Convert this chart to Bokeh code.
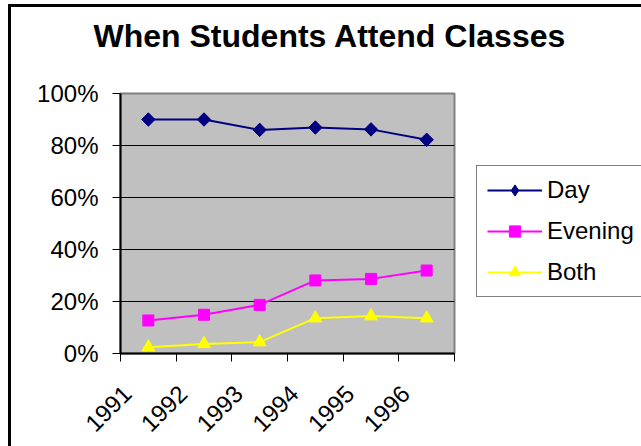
import numpy as np
from bokeh.plotting import figure
from bokeh.models import (Range1d, FixedTicker, NumeralTickFormatter, Legend,
                          LegendItem, Title)
from bokeh.embed import file_html
from bokeh.resources import INLINE

# ---- data ----
years = ["1991", "1992", "1993", "1994", "1995", "1996"]
day = [0.900, 0.900, 0.860, 0.869, 0.862, 0.822]
evening = [0.127, 0.149, 0.187, 0.281, 0.287, 0.319]
both = [0.024, 0.037, 0.044, 0.136, 0.144, 0.136]
y_ticks = [0.0, 0.2, 0.4, 0.6, 0.8, 1.0]
title_text = "When Students Attend Classes"

FONT = "Liberation Sans"

xs = [i + 0.5 for i in range(len(years))]
bounds = list(range(len(years) + 1))
label_pos = [x - 0.38 for x in xs]  # rotated labels sit left of category centre

p = figure(frame_width=334, frame_height=260, output_backend="svg",
           toolbar_location=None, title=None,
           x_range=Range1d(0, len(years)), y_range=Range1d(0, 1),
           min_border_left=120, min_border_right=187,
           min_border_top=93, min_border_bottom=93)
# spacer between the title and the plot area
p.add_layout(Title(text=" ", text_font_size="8px", standoff=10,
                   text_color="white"), "above")
p.add_layout(Title(text=title_text, align="left", offset=-27,
                   text_font=FONT, text_font_size="32px", text_font_style="bold",
                   text_color="black", vertical_align="top", standoff=34),
             "above")
p.background_fill_color = "#C0C0C0"
p.border_fill_color = "white"
p.border_fill_alpha = 0
p.outline_line_color = "#808080"
p.outline_line_width = 2
p.styles = {
    "background": "linear-gradient(black, black) 8px 4px / 3px 100% no-repeat, "
                  "linear-gradient(black, black) 8px 4px / 100% 3px no-repeat, white"
}

# grid
p.xgrid.grid_line_color = None
p.ygrid.ticker = FixedTicker(ticks=y_ticks)
p.ygrid.grid_line_color = "black"
p.ygrid.grid_line_width = 1

# y axis
yax = p.yaxis[0]
yax.ticker = FixedTicker(ticks=y_ticks, minor_ticks=[])
yax.formatter = NumeralTickFormatter(format="0%")
yax.axis_line_color = "black"
yax.axis_line_width = 2
yax.major_tick_in = 0
yax.major_tick_out = 8
yax.major_tick_line_color = "black"
yax.minor_tick_line_color = None
yax.major_label_standoff = 14
yax.major_label_text_font = FONT
yax.major_label_text_font_size = "24px"
yax.major_label_text_color = "black"

# x axis
xax = p.xaxis[0]
xax.ticker = FixedTicker(ticks=label_pos, minor_ticks=bounds)
xax.major_label_overrides = {x: y for x, y in zip(label_pos, years)}
xax.axis_line_color = "black"
xax.axis_line_width = 2
xax.major_tick_in = 0
xax.major_tick_out = 0
xax.major_tick_line_color = None
xax.minor_tick_in = 0
xax.minor_tick_out = 8
xax.minor_tick_line_color = "black"
xax.major_label_orientation = np.pi / 4
xax.major_label_standoff = 28
xax.major_label_text_font = FONT
xax.major_label_text_font_size = "24px"
xax.major_label_text_color = "black"

# series
l1 = p.line(xs, day, line_color="#000080", line_width=2)
# diamond used for the legend glyph; hidden beneath the rotated squares
d_leg = p.scatter(xs, day, marker="diamond", size=12.5,
                  fill_color="#000080", line_color="#000080")
s1 = p.scatter(xs, day, marker="square", angle=np.pi / 4, size=9.5,
               fill_color="#000080", line_color="#000080")
l2 = p.line(xs, evening, line_color="#FF00FF", line_width=2)
s2 = p.scatter(xs, evening, marker="square", size=11,
               fill_color="#FF00FF", line_color="#FF00FF")
l3 = p.line(xs, both, line_color="#FFFF00", line_width=2)
s3 = p.scatter(xs, both, marker="triangle", size=13,
               fill_color="#FFFF00", line_color="#FFFF00")

legend = Legend(items=[LegendItem(label="Day", renderers=[l1, d_leg]),
                       LegendItem(label="Evening", renderers=[l2, s2]),
                       LegendItem(label="Both", renderers=[l3, s3])],
                location=(22, 56), orientation="vertical",
                padding=10, spacing=13, margin=0,
                glyph_width=55, glyph_height=28, label_height=28,
                label_width=100, label_standoff=5,
                label_text_font=FONT, label_text_font_size="24px",
                label_text_color="black",
                border_line_color="black", border_line_width=1,
                background_fill_color="white", background_fill_alpha=1)
p.add_layout(legend, "right")

open("out.html", "w").write(file_html(p, INLINE))
